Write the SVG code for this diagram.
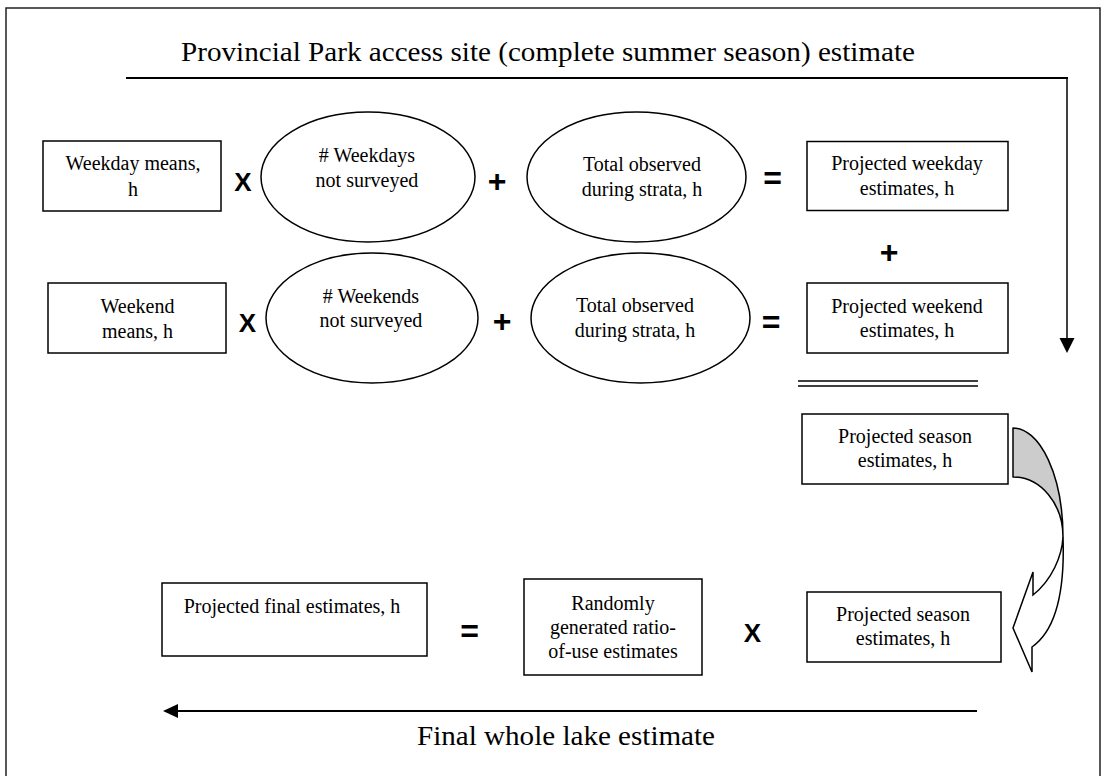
<svg xmlns="http://www.w3.org/2000/svg" width="1105" height="776" viewBox="0 0 1105 776">
<defs>
<style>
.box{fill:#fff;stroke:#000;stroke-width:1.5}
.ell{fill:#fff;stroke:#000;stroke-width:1.5}
.t{font-family:"Liberation Serif","Times New Roman",serif;font-size:20px;fill:#000;text-anchor:middle}
.big{font-family:"Liberation Serif","Times New Roman",serif;font-size:27px;fill:#000}
.op{font-family:"Liberation Sans",Arial,sans-serif;font-weight:bold;fill:#000;text-anchor:middle}
.x{font-size:26px}
.pe{font-size:32px}
.ln{fill:none;stroke:#000}
</style>
</defs>
<rect x="6" y="8" width="1094" height="800" fill="#fff" stroke="#222" stroke-width="1.5"/>
<text class="big" x="181" y="60.5" textLength="734" lengthAdjust="spacingAndGlyphs">Provincial Park access site (complete summer season) estimate</text>
<text class="big" x="417" y="745" textLength="298" lengthAdjust="spacingAndGlyphs">Final whole lake estimate</text>

<g id="connectors">
<line class="ln" x1="126" y1="78" x2="1068" y2="78" stroke-width="2"/>
<line class="ln" x1="1067" y1="78" x2="1067" y2="340" stroke-width="1.5"/>
<polygon points="1059.5,338 1074.5,338 1067,353" fill="#000"/>
<line class="ln" x1="176" y1="711" x2="977" y2="711" stroke-width="2"/>
<polygon points="163,711 178,704 178,718" fill="#000"/>
<line class="ln" x1="798" y1="381" x2="978" y2="381" stroke-width="1.6"/>
<line class="ln" x1="798" y1="386" x2="978" y2="386" stroke-width="1.6"/>
<path d="M1013,428 A50,109 0 0 1 1063,537 A50,60 0 0 0 1013,477 Z" fill="#cccccc" stroke="#000" stroke-width="1.5" stroke-linejoin="round"/>
<path d="M1063,537 C1062,556 1052,580 1033,595 L1033,572 L1013,628 L1032,672 L1032,647 C1055,631 1065,592 1063,537 Z" fill="#fff" stroke="#000" stroke-width="1.5" stroke-linejoin="miter"/>
</g>

<g id="weekday-means"><rect class="box" x="43" y="141" width="178" height="70"/><text class="t" x="133" y="170">Weekday means,</text><text class="t" x="133" y="196">h</text></g>
<g id="op-x1"><text class="op x" x="243" y="191">X</text></g>
<g id="weekdays-not-surveyed"><ellipse class="ell" cx="368" cy="177" rx="107" ry="65"/><text class="t" x="367" y="162"># Weekdays</text><text class="t" x="367" y="187">not surveyed</text></g>
<g id="op-plus1"><text class="op pe" x="497" y="192">+</text></g>
<g id="total-observed-1"><ellipse class="ell" cx="636.5" cy="177" rx="109.5" ry="65"/><text class="t" x="642" y="171">Total observed</text><text class="t" x="642" y="196">during strata, h</text></g>
<g id="op-eq1"><text class="op pe" x="772.5" y="189">=</text></g>
<g id="projected-weekday"><rect class="box" x="807" y="141.5" width="201" height="69"/><text class="t" x="907" y="170">Projected weekday</text><text class="t" x="907" y="195">estimates, h</text></g>
<g id="op-plus-mid"><text class="op pe" x="889" y="263">+</text></g>

<g id="weekend-means"><rect class="box" x="48" y="283" width="178" height="70"/><text class="t" x="137.5" y="313">Weekend</text><text class="t" x="137.5" y="338">means, h</text></g>
<g id="op-x2"><text class="op x" x="247.5" y="332">X</text></g>
<g id="weekends-not-surveyed"><ellipse class="ell" cx="372" cy="318" rx="106" ry="65"/><text class="t" x="371" y="303"># Weekends</text><text class="t" x="371" y="327">not surveyed</text></g>
<g id="op-plus2"><text class="op pe" x="502" y="332">+</text></g>
<g id="total-observed-2"><ellipse class="ell" cx="640.5" cy="318" rx="109.5" ry="65"/><text class="t" x="635" y="312">Total observed</text><text class="t" x="635" y="337">during strata, h</text></g>
<g id="op-eq2"><text class="op pe" x="771" y="333">=</text></g>
<g id="projected-weekend"><rect class="box" x="807" y="283" width="201" height="70"/><text class="t" x="907" y="313">Projected weekend</text><text class="t" x="907" y="337">estimates, h</text></g>

<g id="projected-season-1"><rect class="box" x="802" y="414" width="206" height="70"/><text class="t" x="905" y="443">Projected season</text><text class="t" x="905" y="467">estimates, h</text></g>

<g id="projected-final"><rect class="box" x="162" y="583" width="265" height="73"/><text class="t" x="292" y="613">Projected final estimates, h</text></g>
<g id="op-eq3"><text class="op pe" x="469.5" y="642">=</text></g>
<g id="ratio-of-use"><rect class="box" x="524" y="579" width="178" height="96"/><text class="t" x="613" y="610">Randomly</text><text class="t" x="613" y="634">generated ratio-</text><text class="t" x="613" y="658">of-use estimates</text></g>
<g id="op-x3"><text class="op x" x="752.5" y="642">X</text></g>
<g id="projected-season-2"><rect class="box" x="807" y="592" width="194" height="70"/><text class="t" x="903" y="621">Projected season</text><text class="t" x="903" y="645">estimates, h</text></g>
</svg>
